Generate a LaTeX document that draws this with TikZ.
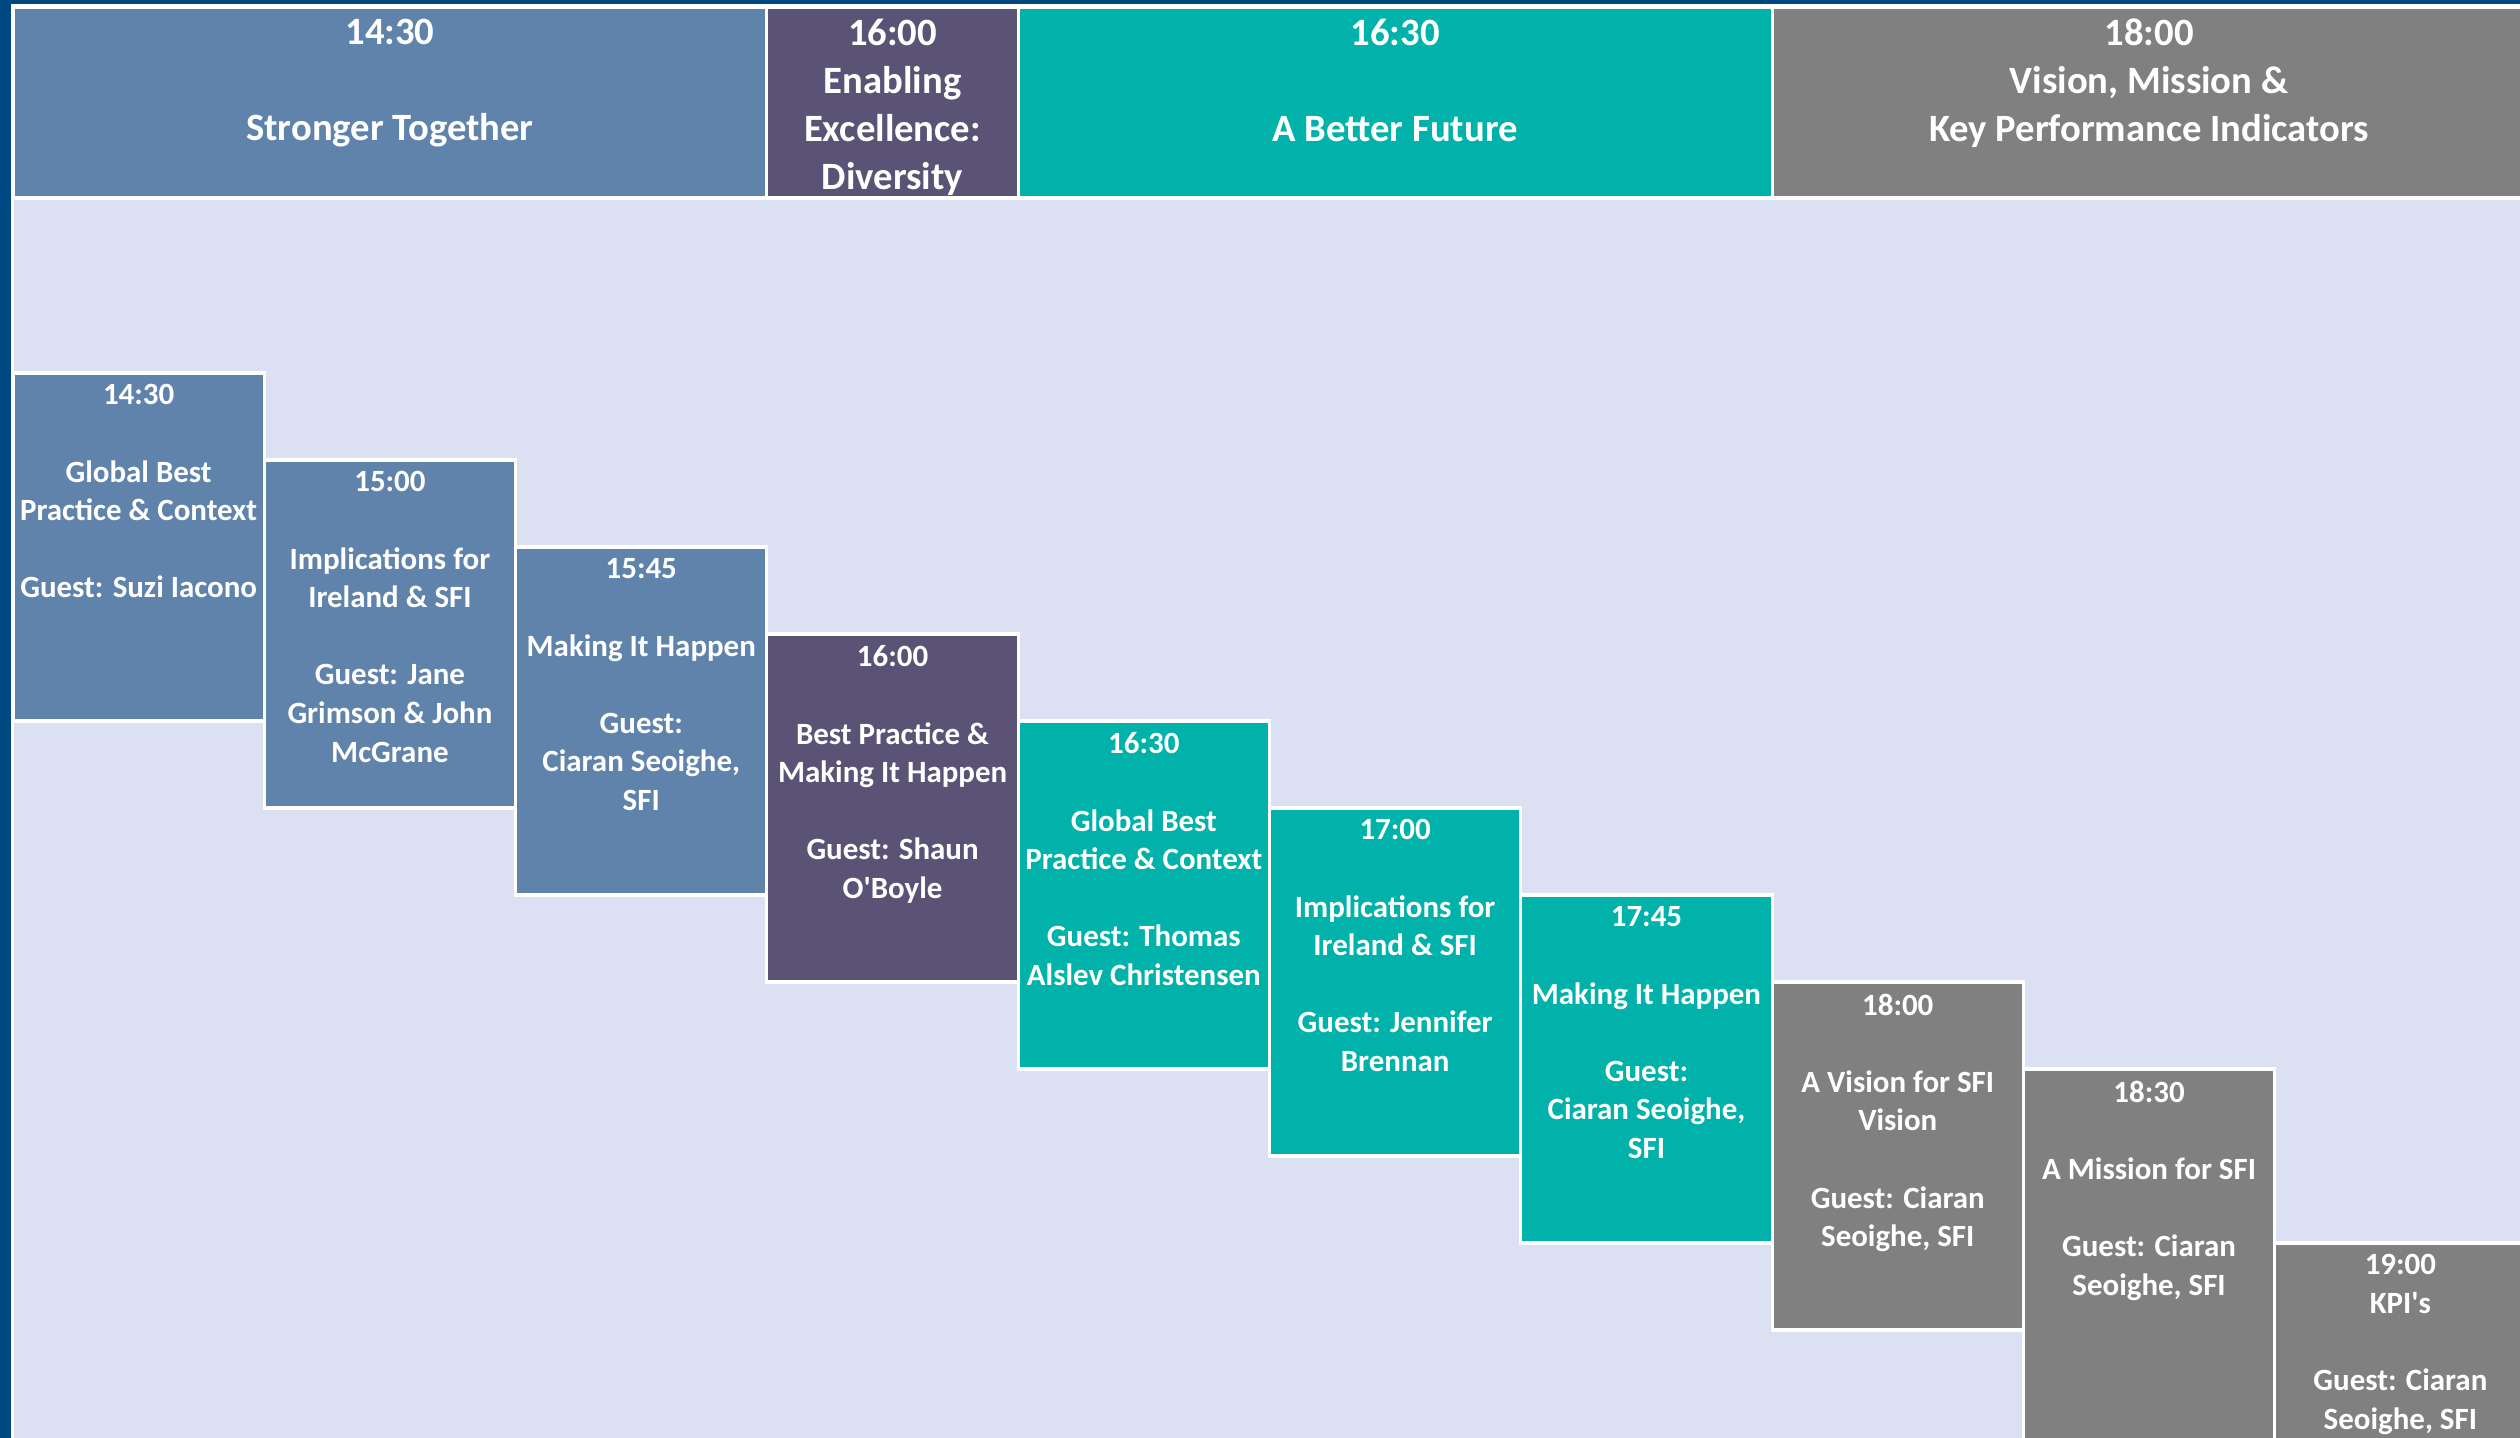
\documentclass[tikz,border=0pt]{standalone}
\usepackage{fontspec}
\setmainfont{Carlito}
\usetikzlibrary{positioning}
\definecolor{frame}{HTML}{004881}
\definecolor{panel}{HTML}{DBE1F2}
\definecolor{stronger}{HTML}{6083AC}
\definecolor{diversity}{HTML}{5B5375}
\definecolor{future}{HTML}{00B2A9}
\definecolor{vision}{HTML}{808080}
\tikzset{%
  slot/.style={draw=white, line width=0.9pt, inner sep=0pt, outer sep=0pt,
    minimum width=2.513cm, minimum height=3.48cm},
  hd/.style={slot, minimum height=1.91cm},
  hdw/.style={hd, minimum width=7.539cm},
  txt/.style={text=white, align=center, inner sep=0pt,
    font=\fontsize{8.8}{10.97}\selectfont\bfseries},
  htxt/.style={txt, font=\fontsize{11}{13.7}\selectfont\bfseries}
}

\begin{document}
\begin{tikzpicture}
        \useasboundingbox (0,0) rectangle (25.2,-14.38);
        \clip (0,0) rectangle (25.2,-14.38);
        \fill[frame] (0,0) rectangle (25.2,-14.38);
        \filldraw[fill=panel, draw=white, line width=0.9pt] (0.125,-0.055) rectangle (26,-15);
        % header row
        \node[hdw, fill=stronger, anchor=north west] (h1) at (0.13,-0.07) {};
        \node[hd, fill=diversity] (h2) [right = 0mm of h1] {};
        \node[hdw, fill=future]   (h3) [right = 0mm of h2] {};
        \node[hdw, fill=vision]   (h4) [right = 0mm of h3] {};
        \node[htxt] (h1t) [below = 1.1mm of h1.north] {14:30\\[13.7pt] Stronger Together};
        \node[htxt] (h2t) [below = 1.1mm of h2.north] {16:00\\ Enabling\\ Excellence:\\ Diversity};
        \node[htxt] (h3t) [below = 1.1mm of h3.north] {16:30\\[13.7pt] A Better Future};
        \node[htxt] (h4t) [below = 1.1mm of h4.north] {18:00\\ Vision, Mission \&\\ Key Performance Indicators};
        % sessions
        \node[slot, fill=stronger, anchor=north west] (s1) at (0.13,-3.73) {};
        \node[slot, fill=stronger]  (s2)  [below right = 8.7mm and 0mm of s1.north east] {};
        \node[slot, fill=stronger]  (s3)  [below right = 8.7mm and 0mm of s2.north east] {};
        \node[slot, fill=diversity] (s4)  [below right = 8.7mm and 0mm of s3.north east] {};
        \node[slot, fill=future]    (s5)  [below right = 8.7mm and 0mm of s4.north east] {};
        \node[slot, fill=future]    (s6)  [below right = 8.7mm and 0mm of s5.north east] {};
        \node[slot, fill=future]    (s7)  [below right = 8.7mm and 0mm of s6.north east] {};
        \node[slot, fill=vision]    (s8)  [below right = 8.7mm and 0mm of s7.north east] {};
        \node[slot, fill=vision, minimum height=4.4cm] (s9)  [below right = 8.7mm and 0mm of s8.north east] {};
        \node[slot, fill=vision, minimum height=4.4cm] (s10) [below right = 17.4mm and 0mm of s9.north east] {};
        \node[txt] (t1)  [below = 1.1mm of s1.north]  {14:30\\[11pt] Global Best\\ Practice \& Context\\[11pt] Guest: Suzi Iacono};
        \node[txt] (t2)  [below = 1.1mm of s2.north]  {15:00\\[11pt] Implications for\\ Ireland \& SFI\\[11pt] Guest: Jane\\ Grimson \& John\\ McGrane};
        \node[txt] (t3)  [below = 1.1mm of s3.north]  {15:45\\[11pt] Making It Happen\\[11pt] Guest:\\ Ciaran Seoighe,\\ SFI};
        \node[txt] (t4)  [below = 1.1mm of s4.north]  {16:00\\[11pt] Best Practice \&\\ Making It Happen\\[11pt] Guest: Shaun\\ O\textquotesingle Boyle};
        \node[txt] (t5)  [below = 1.1mm of s5.north]  {16:30\\[11pt] Global Best\\ Practice \& Context\\[11pt] Guest: Thomas\\ Alslev Christensen};
        \node[txt] (t6)  [below = 1.1mm of s6.north]  {17:00\\[11pt] Implications for\\ Ireland \& SFI\\[11pt] Guest: Jennifer\\ Brennan};
        \node[txt] (t7)  [below = 1.1mm of s7.north]  {17:45\\[11pt] Making It Happen\\[11pt] Guest:\\ Ciaran Seoighe,\\ SFI};
        \node[txt] (t8)  [below = 1.1mm of s8.north]  {18:00\\[11pt] A Vision for SFI\\ Vision\\[11pt] Guest: Ciaran\\ Seoighe, SFI};
        \node[txt] (t9)  [below = 1.1mm of s9.north]  {18:30\\[11pt] A Mission for SFI\\[11pt] Guest: Ciaran\\ Seoighe, SFI};
        \node[txt] (t10) [below = 1.1mm of s10.north] {19:00\\ KPI\textquotesingle s\\[11pt] Guest: Ciaran\\ Seoighe, SFI};
\end{tikzpicture}
\end{document}
